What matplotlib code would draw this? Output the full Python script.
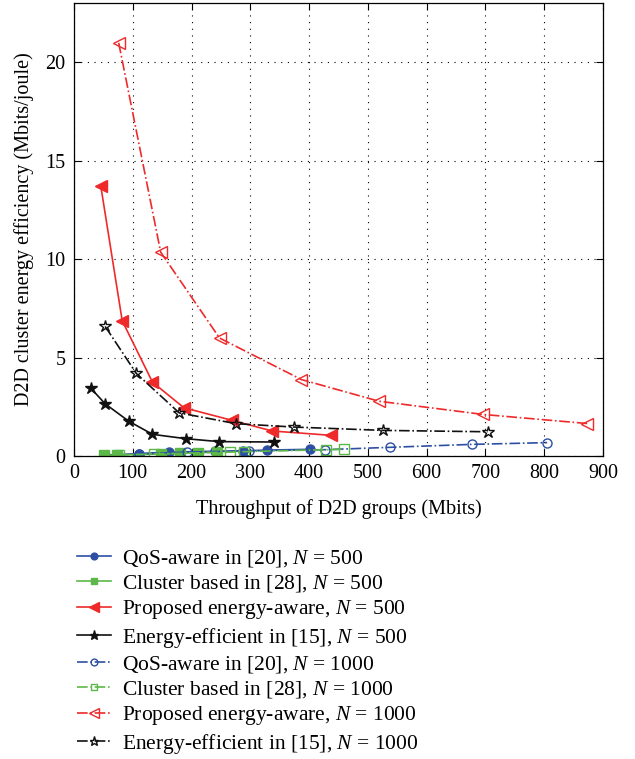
import matplotlib
matplotlib.use("Agg")
import matplotlib.pyplot as plt

plt.rcParams['font.family'] = ['Liberation Serif', 'DejaVu Serif']
plt.rcParams['mathtext.fontset'] = 'custom'
plt.rcParams['mathtext.it'] = 'Liberation Serif:italic'
plt.rcParams['mathtext.rm'] = 'Liberation Serif'

# ---- data ----
qos500_x = [52, 110, 161, 240, 287, 328, 402]
qos500_y = [0.04, 0.12, 0.20, 0.24, 0.26, 0.30, 0.34]

clu500_x = [51, 74, 148, 180, 211, 243]
clu500_y = [0.03, 0.05, 0.10, 0.14, 0.17, 0.20]

prop500_x = [45.5, 82, 133.5, 187, 269, 337, 437]
prop500_y = [13.72, 6.87, 3.75, 2.45, 1.81, 1.27, 1.05]

ee500_x = [29, 53, 93, 133.5, 190, 247, 340]
ee500_y = [3.43, 2.65, 1.77, 1.10, 0.88, 0.73, 0.71]

qos1000_x = [110, 192, 297, 427, 537, 677, 805]
qos1000_y = [0.10, 0.20, 0.26, 0.32, 0.44, 0.59, 0.68]

clu1000_x = [76, 136, 266, 290, 428, 459]
clu1000_y = [0.05, 0.10, 0.20, 0.22, 0.32, 0.34]

prop1000_x = [76, 147.5, 247.6, 387, 519, 696, 873]
prop1000_y = [20.98, 10.35, 5.99, 3.88, 2.78, 2.11, 1.65]

ee1000_x = [53, 106, 179, 276, 374, 526, 704]
ee1000_y = [6.58, 4.19, 2.19, 1.64, 1.47, 1.30, 1.23]

labels = [
    r'QoS-aware in [20], $N$ = 500',
    r'Cluster based in [28], $N$ = 500',
    r'Proposed energy-aware, $N$ = 500',
    r'Energy-efficient in [15], $N$ = 500',
    r'QoS-aware in [20], $N$ = 1000',
    r'Cluster based in [28], $N$ = 1000',
    r'Proposed energy-aware, $N$ = 1000',
    r'Energy-efficient in [15], $N$ = 1000',
]

xticks = [0, 100, 200, 300, 400, 500, 600, 700, 800, 900]
yticks = [0, 5, 10, 15, 20]

BLUE = '#2d4fa3'
GREEN = '#5cb848'
RED = '#ee2a2a'
BLACK = '#111111'

fig = plt.figure(figsize=(6.35, 7.59), dpi=100)
ax = fig.add_axes([74 / 635, (759 - 456) / 759, 529 / 635, 453 / 759])

lw = 1.2
ax.plot(qos500_x, qos500_y, '-', color=BLUE, lw=lw, marker='o', ms=6.5,
        mfc=BLUE, mec=BLUE, label=labels[0])
ax.plot(clu500_x, clu500_y, '-', color=GREEN, lw=lw, marker='s', ms=6.5,
        mfc=GREEN, mec=GREEN, label=labels[1])
ax.plot(prop500_x, prop500_y, '-', color=RED, lw=lw, marker='<', ms=9,
        mfc=RED, mec=RED, label=labels[2])
ax.plot(ee500_x, ee500_y, '-', color=BLACK, lw=lw, marker='*', ms=9,
        mfc=BLACK, mec=BLACK, label=labels[3])
ax.plot(qos1000_x, qos1000_y, '-.', color=BLUE, lw=lw, marker='o', ms=6.5,
        mfc='none', mec=BLUE, label=labels[4])
ax.plot(clu1000_x, clu1000_y, '-.', color=GREEN, lw=lw, marker='s', ms=6.5,
        mfc='none', mec=GREEN, label=labels[5])
ax.plot(prop1000_x, prop1000_y, '-.', color=RED, lw=lw, marker='<', ms=9,
        mfc='none', mec=RED, label=labels[6])
ax.plot(ee1000_x, ee1000_y, '-.', color=BLACK, lw=lw, marker='*', ms=9,
        mfc='none', mec=BLACK, label=labels[7])

ax.set_xlim(0, 900)
ax.set_ylim(0, 23)
ax.set_xticks(xticks)
ax.set_yticks(yticks)
ax.tick_params(direction='in', top=True, right=True, length=5, width=0.8,
               labelsize=14.5, pad=6)
ax.grid(True, color='black', linestyle=(0, (1, 5)), linewidth=0.8)
for s in ax.spines.values():
    s.set_linewidth(0.9)

ax.set_xlabel('Throughput of D2D groups (Mbits)', fontsize=14.5, labelpad=11)
ax.set_ylabel('D2D cluster energy efficiency (Mbits/joule)', fontsize=14.5, labelpad=8)

handles, labs = ax.get_legend_handles_labels()
fig.legend(handles, labs, loc='upper left', bbox_to_anchor=(68 / 635, 1 - 539 / 759),
           frameon=False, fontsize=15.5, handlelength=1.6, handletextpad=0.5,
           labelspacing=0.2, borderaxespad=0, markerscale=0.75)

fig.savefig('out.png', dpi=100)
